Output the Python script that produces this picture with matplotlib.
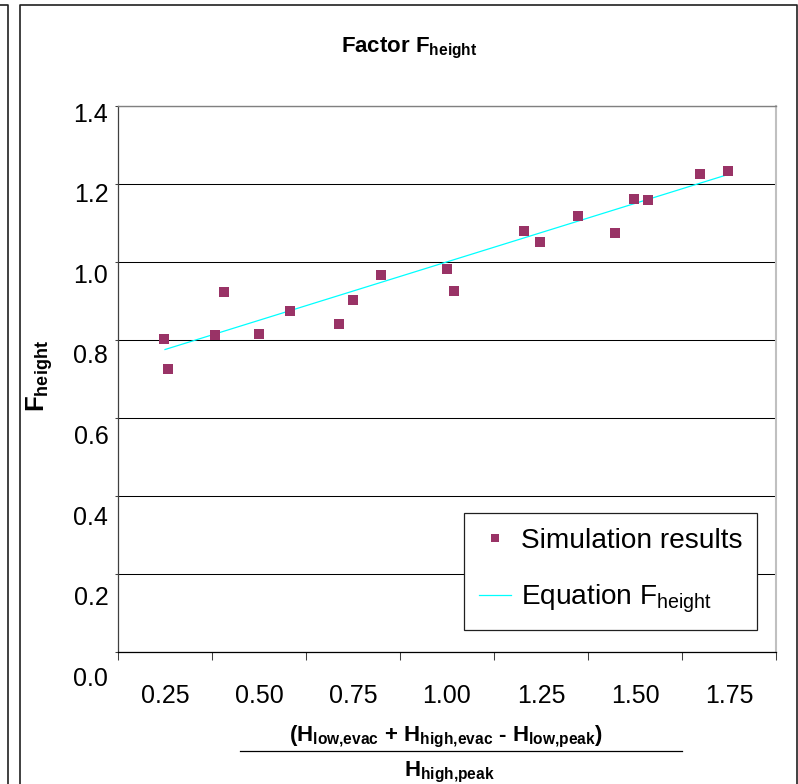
import matplotlib
matplotlib.use('Agg')
import matplotlib.pyplot as plt
from matplotlib.lines import Line2D

plt.rcParams['font.family'] = ['Liberation Sans', 'DejaVu Sans']
plt.rcParams['mathtext.fontset'] = 'custom'
plt.rcParams['mathtext.rm'] = 'Liberation Sans'
plt.rcParams['mathtext.bf'] = 'Liberation Sans:bold'
plt.rcParams['mathtext.it'] = 'Liberation Sans:italic'

# ---- data ----
sim_x = [0.247, 0.258, 0.383, 0.408, 0.499, 0.582, 0.712, 0.749, 0.824, 0.999,
         1.019, 1.205, 1.247, 1.349, 1.447, 1.497, 1.535, 1.673, 1.747]
sim_y = [0.803, 0.725, 0.813, 0.922, 0.814, 0.873, 0.841, 0.903, 0.967, 0.981,
         0.925, 1.079, 1.051, 1.118, 1.074, 1.161, 1.158, 1.225, 1.232]
eq_x = [0.25, 1.75]
eq_y = [0.775, 1.225]

x_tick_values = [0.25, 0.50, 0.75, 1.00, 1.25, 1.50, 1.75]
x_tick_labels = ['0.25', '0.50', '0.75', '1.00', '1.25', '1.50', '1.75']
y_tick_values = [0.0, 0.2, 0.4, 0.6, 0.8, 1.0, 1.2, 1.4]
y_tick_labels = ['0.0', '0.2', '0.4', '0.6', '0.8', '1.0', '1.2', '1.4']

W, H = 798, 784
fig = plt.figure(figsize=(W / 100, H / 100), dpi=100)


def fx(px):
    return px / W


def fy(py):
    return 1 - py / H


rect = [fx(118), fy(651.5), (776 - 118) / W, (651.5 - 106) / H]

# axes only used to place the (slightly spread) y tick labels, as in the original
lbl_rect = [fx(118), fy(690), (776 - 118) / W, (690 - 106) / H]
ax_lbl = fig.add_axes(lbl_rect, frameon=False)
ax_lbl.set_yticks(y_tick_values)
ax_lbl.set_yticklabels(y_tick_labels, fontsize=18)
ax_lbl.set_ylim(-0.0332, 1.4149)
ax_lbl.tick_params(axis='y', length=0, pad=7)
ax_lbl.set_xticks([])

ax = fig.add_axes(rect)
half = (x_tick_values[1] - x_tick_values[0]) / 2
bounds = [v - half for v in x_tick_values] + [x_tick_values[-1] + half]
ax.set_xticks(bounds)
ax.set_xticklabels([])
ax.set_xticks(x_tick_values, minor=True)
ax.set_xticklabels(x_tick_labels, minor=True, fontsize=18)
ax.tick_params(axis='x', which='major', length=5.5, width=0.75, direction='out', color='#404040')
ax.tick_params(axis='x', which='minor', length=0, pad=23.5)

ax.set_yticks(y_tick_values)
ax.set_yticklabels([])
ax.tick_params(axis='y', length=2.2, width=0.75, direction='out', color='#404040')
ax.yaxis.grid(True, color='black', lw=0.75)
ax.set_axisbelow(True)
ax.set_xlim(bounds[0], bounds[-1])
ax.set_ylim(y_tick_values[0], y_tick_values[-1])

ax.spines['top'].set_color('#808080')
ax.spines['top'].set_linewidth(1.0)
ax.spines['right'].set_color('#c0c0c0')
ax.spines['right'].set_linewidth(1.5)
ax.spines['left'].set_color('#404040')
ax.spines['left'].set_linewidth(0.9)
ax.spines['bottom'].set_color('black')
ax.spines['bottom'].set_linewidth(0.9)

eq_line, = ax.plot(eq_x, eq_y, color='#00FFFF', lw=0.9, zorder=2)
sim_pts, = ax.plot(sim_x, sim_y, ls='none', marker='s', ms=6.5, mew=0,
                   color='#993366', zorder=3)

leg = ax.legend([sim_pts, eq_line],
                ['Simulation results', r'Equation F$_{\mathrm{height}}$'],
                loc='upper left', bbox_to_anchor=((464 - 118) / 658, (651.5 - 513) / 545.5),
                borderaxespad=0, fontsize=20.2, markerscale=0.8,
                handlelength=1.15, handletextpad=0.35, labelspacing=1.05,
                borderpad=0.52, fancybox=False, framealpha=1, edgecolor='#202020')
leg.get_frame().set_linewidth(0.9)

# title and axis labels
fig.text(fx(409), fy(52), r'Factor F$_{\mathbf{height}}$', ha='center', va='baseline',
         fontsize=16, fontweight='bold')
fig.text(fx(40), fy(376), r'F$_{\mathbf{height}}$', ha='center', va='center',
         rotation=90, fontsize=18.5, fontweight='bold')
fig.text(fx(446), fy(741),
         r'(H$_{\mathbf{low{,}evac}}$ + H$_{\mathbf{high{,}evac}}$ - H$_{\mathbf{low{,}peak}}$)',
         ha='center', va='baseline', fontsize=16, fontweight='bold')
fig.add_artist(Line2D([fx(240), fx(682)], [fy(751), fy(751)], transform=fig.transFigure,
                      color='black', lw=0.9))
fig.text(fx(449), fy(776), r'H$_{\mathbf{high{,}peak}}$', ha='center', va='baseline',
         fontsize=16, fontweight='bold')

# chart frames
frame_kw = dict(transform=fig.transFigure, color='#202020', lw=1.2)
fig.add_artist(Line2D([fx(19.5), fx(19.5), fx(796.5), fx(796.5)],
                      [fy(H), fy(5), fy(5), fy(H)], **frame_kw))
fig.add_artist(Line2D([0, fx(8), fx(8)], [fy(5), fy(5), fy(H)], **frame_kw))

fig.savefig('out.png', dpi=100)
